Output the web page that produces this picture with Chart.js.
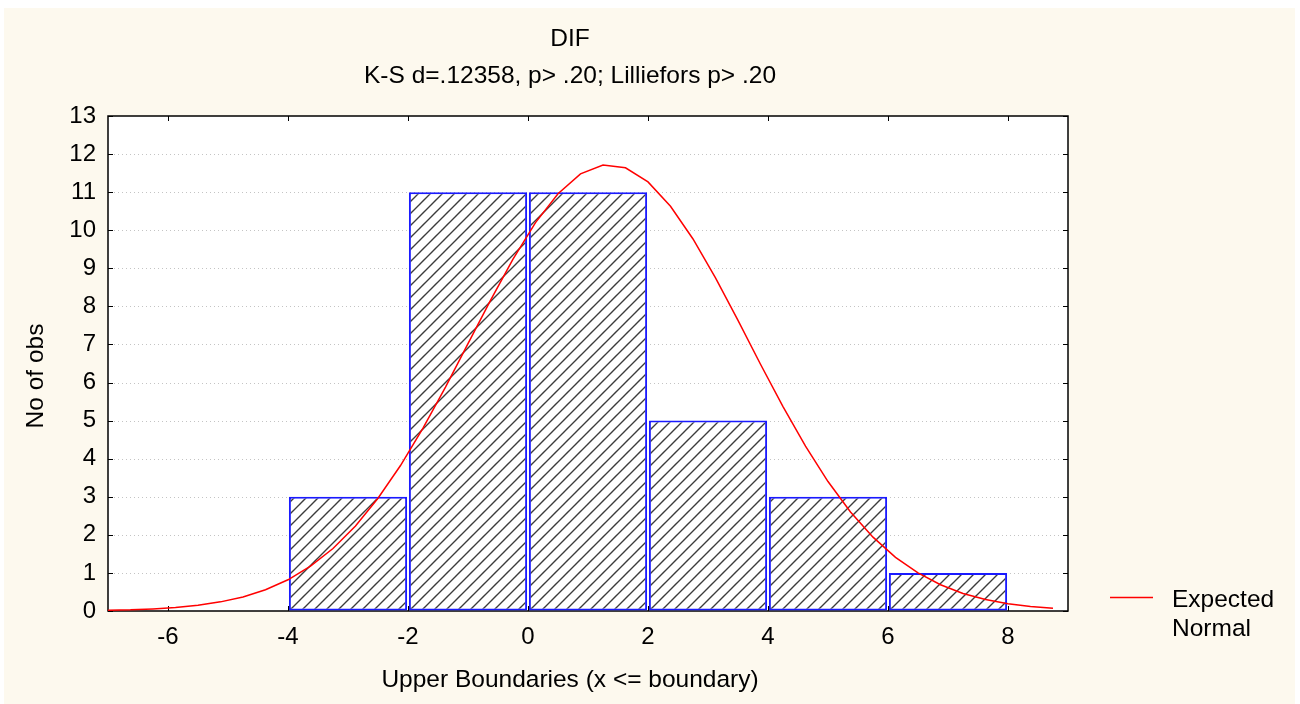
<!DOCTYPE html>
<html>
<head>
<meta charset="utf-8">
<script src="https://cdn.jsdelivr.net/npm/chart.js@4.4.0/dist/chart.umd.min.js"></script>
<style>
html,body{margin:0;padding:0;background:#fff;}
#wrap{width:1300px;height:704px;position:relative;}
</style>
</head>
<body>
<div id="wrap"><canvas id="c" width="1300" height="704"></canvas></div>
<script>
// ---- data ----
const titleText = "DIF";
const subtitleText = "K-S d=.12358, p> .20; Lilliefors p> .20";
const xAxisTitle = "Upper Boundaries (x <= boundary)";
const yAxisTitle = "No of obs";
const legendLines = ["Expected", "Normal"];

const binCenters = [-3, -1, 1, 3, 5, 7];
const binCounts = [3, 11, 11, 5, 3, 1];

const curveX = [-7, -6.625, -6.25, -5.875, -5.5, -5.125, -4.75, -4.375, -4, -3.625,
  -3.25, -2.875, -2.5, -2.125, -1.75, -1.375, -1, -0.625, -0.25, 0.125,
  0.5, 0.875, 1.25, 1.625, 2, 2.375, 2.75, 3.125, 3.5, 3.875,
  4.25, 4.625, 5, 5.375, 5.75, 6.125, 6.5, 6.875, 7.25, 7.625,
  8, 8.375, 8.75];
const curveY = [0.02, 0.03, 0.055, 0.09, 0.15, 0.24, 0.37, 0.56, 0.82, 1.18,
  1.64, 2.23, 2.96, 3.82, 4.80, 5.88, 7.02, 8.16, 9.24, 10.2,
  10.96, 11.48, 11.71, 11.64, 11.27, 10.63, 9.77, 8.75, 7.63, 6.48,
  5.37, 4.33, 3.40, 2.60, 1.94, 1.41, 1.00, 0.69, 0.46, 0.30,
  0.19, 0.12, 0.07];

const xTickValues = [-6, -4, -2, 0, 2, 4, 6, 8];
const yTickValues = [0, 1, 2, 3, 4, 5, 6, 7, 8, 9, 10, 11, 12, 13];

// ---- styling ----
const FONT = "'Liberation Sans', Arial, sans-serif";
Chart.defaults.font.family = FONT;
Chart.defaults.font.size = 24;
Chart.defaults.color = '#000';

function hatchPattern() {
  const s = 12;
  const c = document.createElement('canvas');
  c.width = s; c.height = s;
  const g = c.getContext('2d');
  g.fillStyle = '#ffffff';
  g.fillRect(0, 0, s, s);
  g.strokeStyle = '#3c3c3c';
  g.lineWidth = 1.4;
  g.beginPath();
  g.moveTo(-2, s + 2); g.lineTo(s + 2, -2);
  g.moveTo(-2, 2); g.lineTo(2, -2);
  g.moveTo(s - 2, s + 2); g.lineTo(s + 2, s - 2);
  g.stroke();
  return g.createPattern(c, 'repeat');
}

const deco = {
  id: 'deco',
  beforeDraw(chart) {
    const ctx = chart.ctx, a = chart.chartArea;
    ctx.save();
    ctx.fillStyle = '#ffffff';
    ctx.fillRect(0, 0, chart.width, chart.height);
    ctx.fillStyle = '#FDF9EE';
    ctx.fillRect(4, 8, 1291, 696);
    ctx.fillStyle = '#ffffff';
    ctx.fillRect(a.left, a.top, a.right - a.left, a.bottom - a.top);
    ctx.restore();
  },
  beforeDatasetsDraw(chart) {
    const ctx = chart.ctx, a = chart.chartArea;
    const xs = chart.scales.x, ys = chart.scales.y;
    ctx.save();
    ctx.strokeStyle = '#c4c4c4';
    ctx.lineWidth = 1;
    ctx.setLineDash([1, 3]);
    yTickValues.forEach(v => {
      if (v === yTickValues[0] || v === yTickValues[yTickValues.length - 1]) return;
      const p = Math.round(ys.getPixelForValue(v)) + 0.5;
      ctx.beginPath(); ctx.moveTo(a.left + 6, p); ctx.lineTo(a.right - 6, p); ctx.stroke();
    });
    ctx.setLineDash([]);
    ctx.strokeStyle = '#000';
    ctx.lineWidth = 1.5;
    ctx.strokeRect(a.left, a.top, a.right - a.left, a.bottom - a.top);
    ctx.lineWidth = 1;
    const tl = 5;
    xTickValues.forEach(v => {
      const p = Math.round(xs.getPixelForValue(v)) + 0.5;
      ctx.beginPath();
      ctx.moveTo(p, a.bottom); ctx.lineTo(p, a.bottom - tl);
      ctx.moveTo(p, a.top); ctx.lineTo(p, a.top + tl);
      ctx.stroke();
    });
    yTickValues.forEach(v => {
      const p = Math.round(ys.getPixelForValue(v)) + 0.5;
      ctx.beginPath();
      ctx.moveTo(a.left, p); ctx.lineTo(a.left + tl, p);
      ctx.moveTo(a.right, p); ctx.lineTo(a.right - tl, p);
      ctx.stroke();
    });
    ctx.restore();
  },
  afterDraw(chart) {
    const ctx = chart.ctx;
    ctx.save();
    ctx.fillStyle = '#000';
    ctx.font = '24.5px ' + FONT;
    ctx.textAlign = 'center';
    ctx.textBaseline = 'alphabetic';
    ctx.fillText(titleText, 570, 46);
    ctx.fillText(subtitleText, 570, 83);
    ctx.fillText(xAxisTitle, 570, 687);
    ctx.save();
    ctx.translate(43, 376);
    ctx.rotate(-Math.PI / 2);
    ctx.fillText(yAxisTitle, 0, 0);
    ctx.restore();
    // legend
    ctx.strokeStyle = '#ff0000';
    ctx.lineWidth = 1.5;
    ctx.beginPath(); ctx.moveTo(1110, 597.5); ctx.lineTo(1153, 597.5); ctx.stroke();
    ctx.textAlign = 'left';
    ctx.fillText(legendLines[0], 1172, 607);
    ctx.fillText(legendLines[1], 1172, 636);
    ctx.restore();
  }
};

const ctx = document.getElementById('c').getContext('2d');
new Chart(ctx, {
  type: 'bar',
  data: {
    datasets: [
      {
        type: 'line',
        label: 'Expected Normal',
        data: curveX.map((x, i) => ({ x: x, y: curveY[i] })),
        borderColor: '#ff0000',
        borderWidth: 1.5,
        pointRadius: 0,
        tension: 0,
        fill: false,
        order: 0
      },
      {
        type: 'bar',
        label: 'Counts',
        data: binCenters.map((x, i) => ({ x: x, y: binCounts[i] })),
        backgroundColor: hatchPattern(),
        borderColor: '#1a1aff',
        borderWidth: 2,
        borderSkipped: false,
        barPercentage: 0.985,
        categoryPercentage: 1,
        order: 1
      }
    ]
  },
  options: {
    responsive: false,
    animation: false,
    devicePixelRatio: 1,
    layout: { padding: { left: 0, top: 116, right: 232, bottom: 0 } },
    plugins: {
      legend: { display: false },
      title: { display: false },
      tooltip: { enabled: false }
    },
    scales: {
      x: {
        type: 'linear',
        min: -7,
        max: 9,
        offset: false,
        afterBuildTicks: s => { s.ticks = xTickValues.map(v => ({ value: v })); },
        afterFit: s => { s.height = 93; },
        grid: { display: true, offset: false, drawOnChartArea: false, drawTicks: false },
        border: { display: false },
        ticks: { padding: 12, font: { size: 24 }, color: '#000', maxRotation: 0, autoSkip: false }
      },
      y: {
        type: 'linear',
        min: 0,
        max: 13,
        afterBuildTicks: s => { s.ticks = yTickValues.map(v => ({ value: v })); },
        afterFit: s => { s.width = 108; },
        grid: { display: true, drawOnChartArea: false, drawTicks: false },
        border: { display: false },
        ticks: { padding: 12, font: { size: 24 }, color: '#000', autoSkip: false }
      }
    }
  },
  plugins: [deco]
});
</script>
</body>
</html>
